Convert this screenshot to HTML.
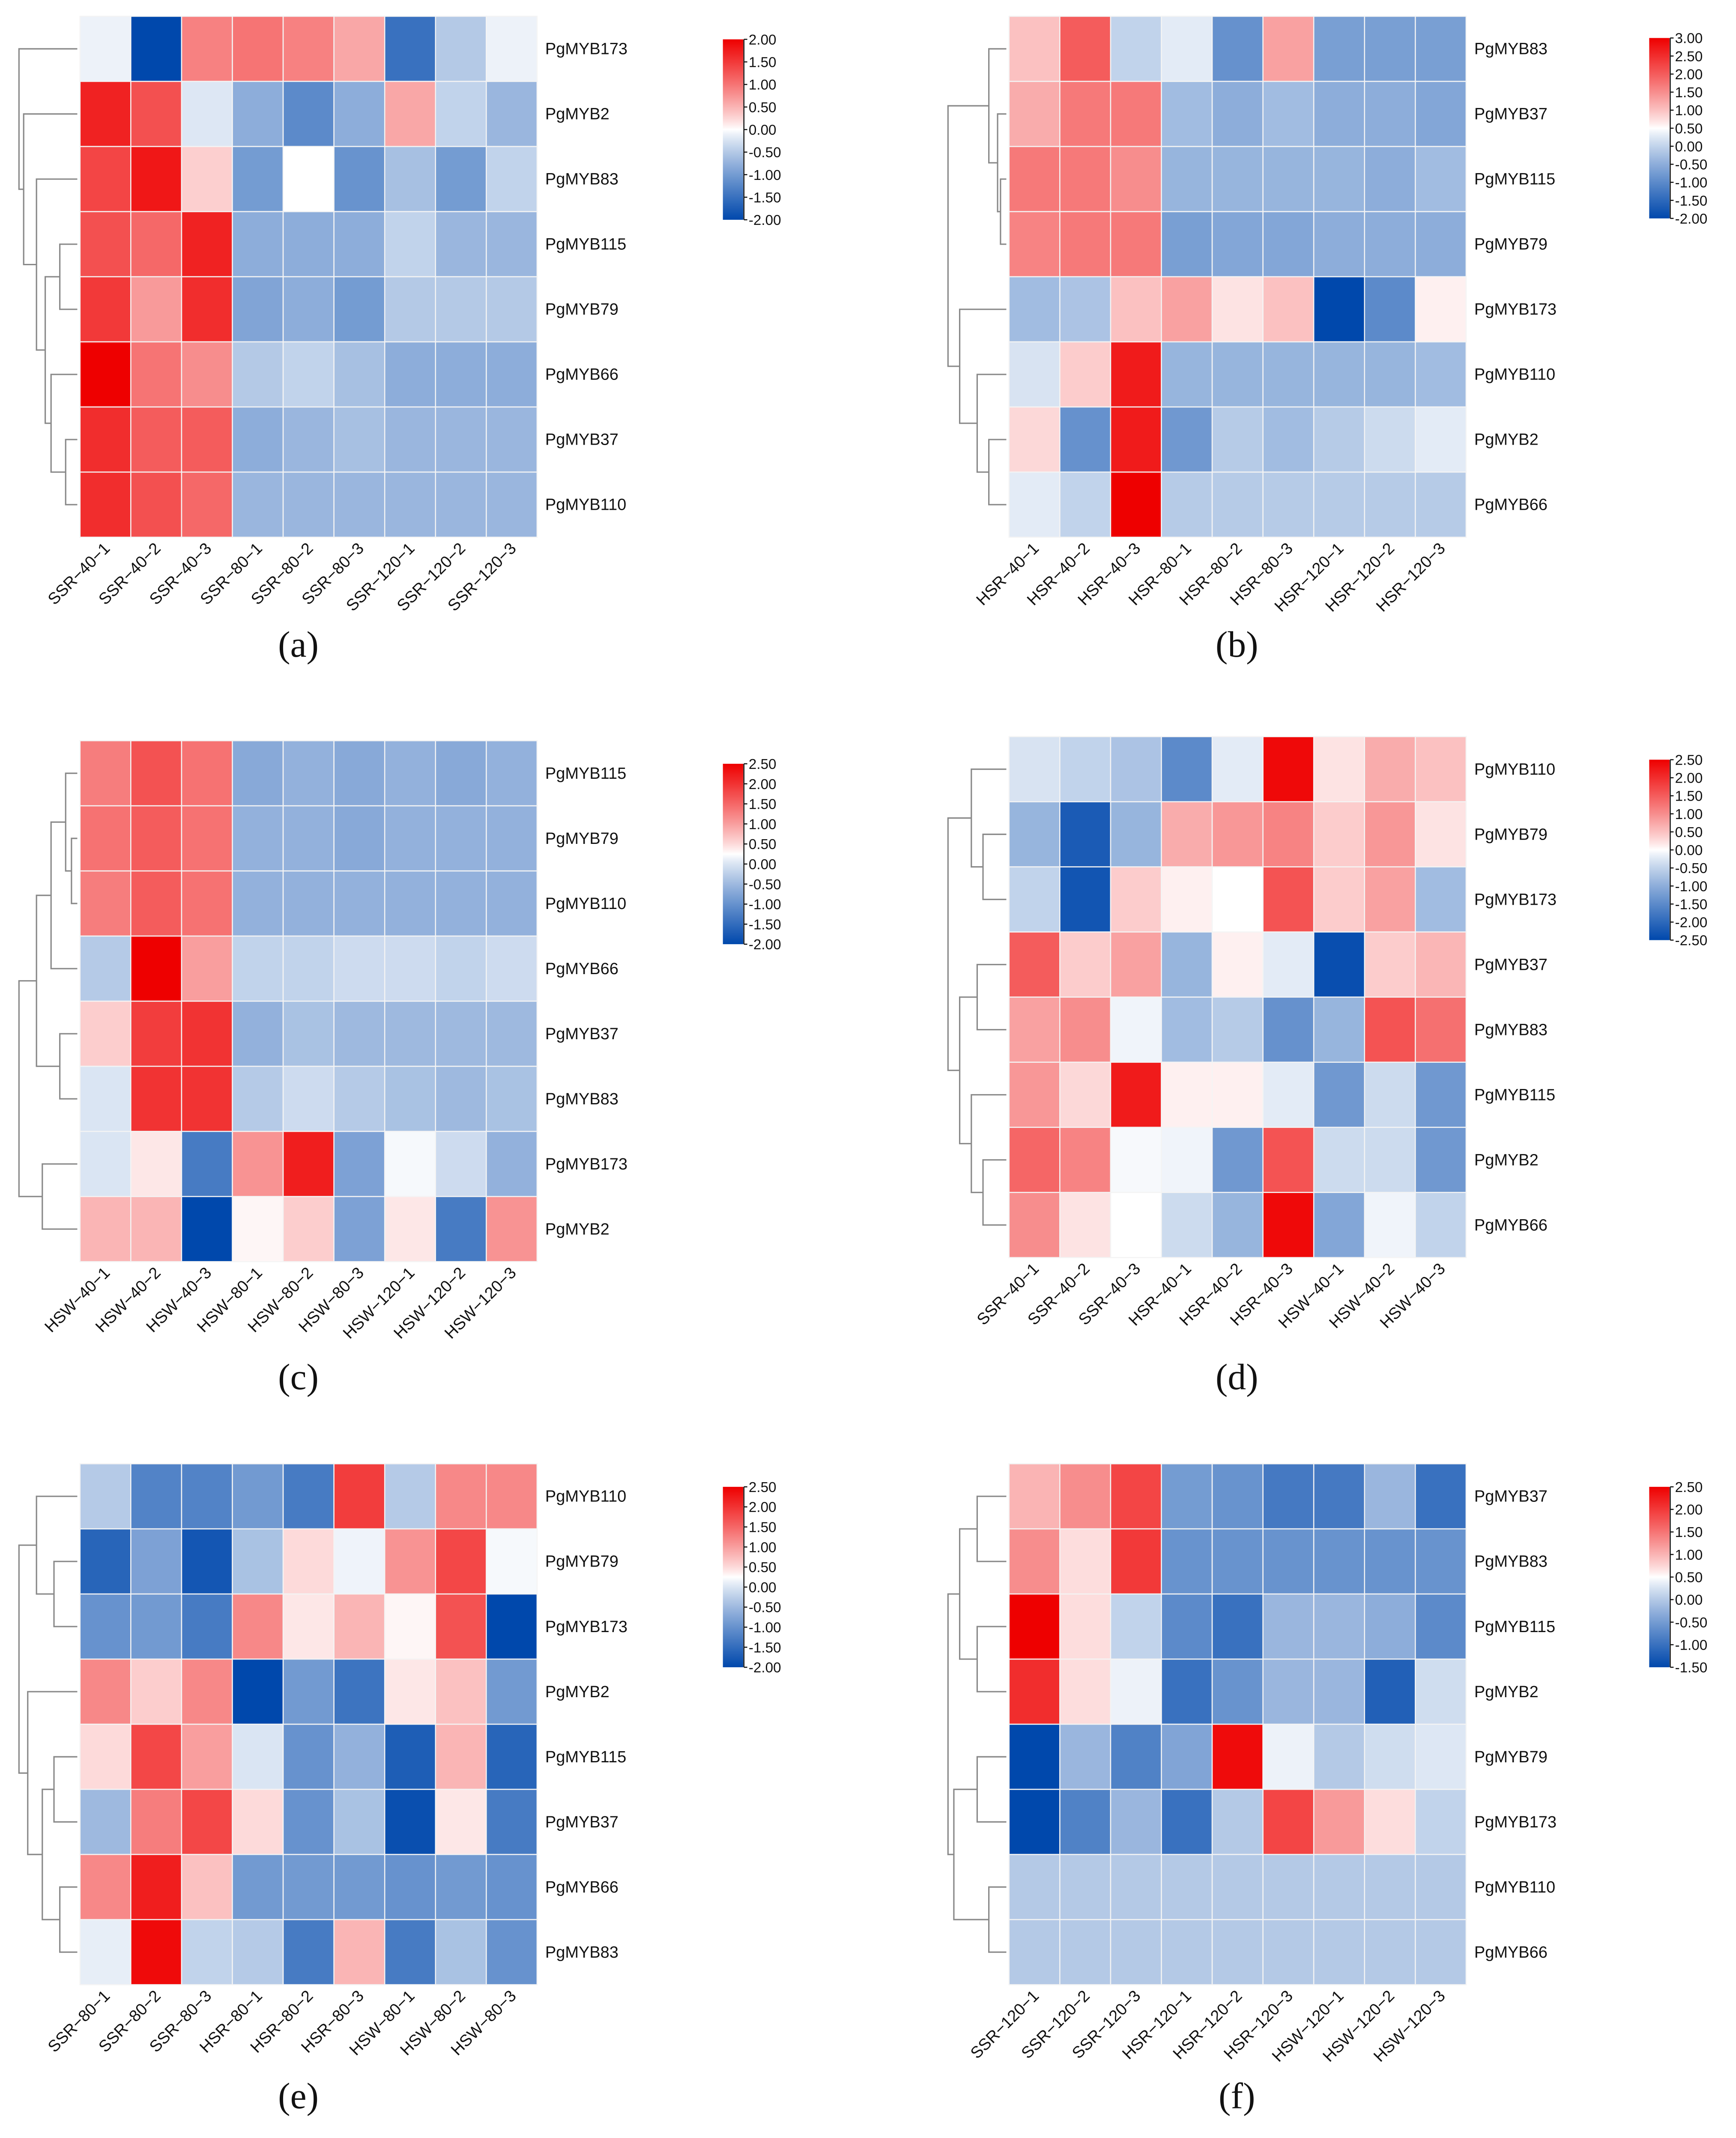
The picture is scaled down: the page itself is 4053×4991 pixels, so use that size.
<!DOCTYPE html>
<html><head><meta charset="utf-8">
<style>
html,body{margin:0;padding:0;background:#fff;}
svg{display:block;}
</style></head>
<body>
<svg id="fig" width="4053" height="4991" viewBox="0 0 1280 1576" preserveAspectRatio="none" xmlns="http://www.w3.org/2000/svg" font-family="Liberation Sans, Arial, sans-serif"></svg>
<script>
const colsA = ["SSR-40-1","SSR-40-2","SSR-40-3","SSR-80-1","SSR-80-2","SSR-80-3","SSR-120-1","SSR-120-2","SSR-120-3"];
const rowsA = ["PgMYB173","PgMYB2","PgMYB83","PgMYB115","PgMYB79","PgMYB66","PgMYB37","PgMYB110"];
const valsA = [
[-0.1,-2.0,0.9,1.0,0.9,0.6,-1.5,-0.5,-0.1],
[1.7,1.3,-0.2,-0.8,-1.2,-0.8,0.6,-0.4,-0.7],
[1.4,1.8,0.3,-1.0,0,-1.1,-0.6,-1.0,-0.4],
[1.3,1.1,1.7,-0.8,-0.8,-0.8,-0.4,-0.7,-0.7],
[1.5,0.7,1.6,-0.9,-0.8,-1.0,-0.5,-0.5,-0.5],
[2.0,1.0,0.8,-0.5,-0.4,-0.6,-0.8,-0.8,-0.8],
[1.6,1.2,1.2,-0.8,-0.7,-0.6,-0.7,-0.7,-0.7],
[1.6,1.3,1.1,-0.7,-0.7,-0.7,-0.7,-0.7,-0.7]];
const ticksA = ["2.00","1.50","1.00","0.50","0.00","-0.50","-1.00","-1.50","-2.00"];

const colsB = ["HSR-40-1","HSR-40-2","HSR-40-3","HSR-80-1","HSR-80-2","HSR-80-3","HSR-120-1","HSR-120-2","HSR-120-3"];
const rowsB = ["PgMYB83","PgMYB37","PgMYB115","PgMYB79","PgMYB173","PgMYB110","PgMYB2","PgMYB66"];
const valsB = [
[1.0,2.0,0,0.3,-0.9,1.3,-0.7,-0.7,-0.7],
[1.2,1.7,1.7,-0.3,-0.5,-0.3,-0.5,-0.5,-0.6],
[1.7,1.7,1.5,-0.4,-0.4,-0.4,-0.4,-0.5,-0.3],
[1.6,1.7,1.7,-0.7,-0.6,-0.6,-0.5,-0.5,-0.5],
[-0.3,-0.2,1.0,1.3,0.7,1.0,-2.0,-1.0,0.6],
[0.2,0.9,2.7,-0.4,-0.4,-0.4,-0.4,-0.4,-0.3],
[0.8,-0.9,2.7,-0.8,-0.1,-0.3,-0.1,0.1,0.3],
[0.3,0,3.0,-0.1,-0.1,-0.1,-0.1,-0.1,-0.1]];
const ticksB = ["3.00","2.50","2.00","1.50","1.00","0.50","0.00","-0.50","-1.00","-1.50","-2.00"];

const colsC = ["HSW-40-1","HSW-40-2","HSW-40-3","HSW-80-1","HSW-80-2","HSW-80-3","HSW-120-1","HSW-120-2","HSW-120-3"];
const rowsC = ["PgMYB115","PgMYB79","PgMYB110","PgMYB66","PgMYB37","PgMYB83","PgMYB173","PgMYB2"];
const valsC = [
[1.3,1.7,1.4,-0.7,-0.6,-0.7,-0.6,-0.7,-0.6],
[1.4,1.6,1.4,-0.6,-0.6,-0.7,-0.6,-0.6,-0.6],
[1.3,1.6,1.4,-0.6,-0.6,-0.6,-0.6,-0.6,-0.6],
[-0.3,2.5,1.0,-0.2,-0.2,-0.1,-0.1,-0.2,-0.1],
[0.6,1.9,2.0,-0.6,-0.4,-0.5,-0.5,-0.5,-0.5],
[0,2.0,2.0,-0.3,-0.1,-0.3,-0.4,-0.5,-0.4],
[0,0.4,-1.3,1.1,2.2,-0.8,0.2,-0.1,-0.6],
[0.8,0.8,-2.0,0.3,0.6,-0.8,0.4,-1.3,1.1]];
const ticksC = ["2.50","2.00","1.50","1.00","0.50","0.00","-0.50","-1.00","-1.50","-2.00"];

const colsD = ["SSR-40-1","SSR-40-2","SSR-40-3","HSR-40-1","HSR-40-2","HSR-40-3","HSW-40-1","HSW-40-2","HSW-40-3"];
const rowsD = ["PgMYB110","PgMYB79","PgMYB173","PgMYB37","PgMYB83","PgMYB115","PgMYB2","PgMYB66"];
const valsD = [
[-0.3,-0.5,-0.7,-1.5,-0.2,2.4,0.2,0.7,0.5],
[-0.9,-2.2,-0.9,0.7,0.9,1.1,0.4,0.9,0.2],
[-0.5,-2.3,0.4,0.1,0,1.6,0.4,0.8,-0.8],
[1.5,0.4,0.8,-0.9,0.1,-0.2,-2.4,0.4,0.6],
[0.8,1.0,-0.1,-0.8,-0.6,-1.4,-0.9,1.6,1.3],
[0.9,0.3,2.2,0.1,0.1,-0.2,-1.3,-0.4,-1.3],
[1.4,1.1,-0.05,-0.1,-1.3,1.6,-0.4,-0.4,-1.3],
[1.0,0.2,0,-0.4,-0.9,2.4,-1.1,-0.1,-0.5]];
const ticksD = ["2.50","2.00","1.50","1.00","0.50","0.00","-0.50","-1.00","-1.50","-2.00","-2.50"];

const colsE = ["SSR-80-1","SSR-80-2","SSR-80-3","HSR-80-1","HSR-80-2","HSR-80-3","HSW-80-1","HSW-80-2","HSW-80-3"];
const rowsE = ["PgMYB110","PgMYB79","PgMYB173","PgMYB2","PgMYB115","PgMYB37","PgMYB66","PgMYB83"];
const valsE = [
[-0.3,-1.2,-1.2,-0.9,-1.3,1.9,-0.3,1.2,1.2],
[-1.6,-0.8,-1.8,-0.4,0.5,0.15,1.1,1.8,0.2],
[-1.0,-0.9,-1.3,1.2,0.4,0.8,0.3,1.7,-2.0],
[1.2,0.6,1.2,-2.0,-0.9,-1.4,0.4,0.7,-0.9],
[0.5,1.8,1.0,0.0,-1.0,-0.6,-1.7,0.8,-1.6],
[-0.5,1.3,1.8,0.5,-1.0,-0.4,-1.9,0.4,-1.3],
[1.2,2.2,0.7,-0.9,-0.9,-0.9,-1.0,-0.9,-1.0],
[0.1,2.4,-0.2,-0.3,-1.3,0.8,-1.3,-0.4,-1.0]];
const ticksE = ["2.50","2.00","1.50","1.00","0.50","0.00","-0.50","-1.00","-1.50","-2.00"];

const colsF = ["SSR-120-1","SSR-120-2","SSR-120-3","HSR-120-1","HSR-120-2","HSR-120-3","HSW-120-1","HSW-120-2","HSW-120-3"];
const rowsF = ["PgMYB37","PgMYB83","PgMYB115","PgMYB2","PgMYB79","PgMYB173","PgMYB110","PgMYB66"];
const valsF = [
[1.0,1.3,1.9,-0.5,-0.6,-0.9,-0.9,-0.2,-1.0],
[1.3,0.7,2.0,-0.6,-0.6,-0.6,-0.6,-0.6,-0.6],
[2.5,0.7,0.1,-0.7,-1.0,-0.2,-0.2,-0.3,-0.7],
[2.1,0.7,0.4,-1.0,-0.6,-0.2,-0.2,-1.2,0.2],
[-1.5,-0.2,-0.8,-0.4,2.4,0.4,0,0.2,0.3],
[-1.5,-0.8,-0.2,-1.0,0,1.9,1.2,0.7,0.1],
[0,0,0,0,0,0,0,0,0],
[0,0,0,0,0,0,0,0,0]];
const ticksF = ["2.50","2.00","1.50","1.00","0.50","0.00","-0.50","-1.00","-1.50"];

const treeA = [1.0,0,[0.92,1,[0.7,2,[0.55,[0.3,3,4],[0.45,5,[0.2,6,7]]]]]];
const treeB = [1.0,[0.3,0,[0.15,1,[0.1,2,3]]],[0.8,4,[0.5,5,[0.3,6,7]]]];
const treeC = [1.0,[0.7,[0.45,[0.2,0,[0.1,1,2]],3],[0.3,4,5]],[0.6,6,7]];
const treeD = [1.0,[0.6,0,[0.4,1,2]],[0.8,[0.5,3,4],[0.6,5,[0.4,6,7]]]];
const treeE = [1.0,[0.7,0,[0.4,1,2]],[0.85,3,[0.6,[0.4,4,5],[0.3,6,7]]]];
const treeF = [1.0,[0.8,[0.5,0,1],[0.5,2,3]],[0.9,[0.5,4,5],[0.3,6,7]]];

const NS="http://www.w3.org/2000/svg";
const svg=document.getElementById('fig');
function el(tag,attrs,parent){const e=document.createElementNS(NS,tag);for(const k in attrs)e.setAttribute(k,attrs[k]);(parent||svg).appendChild(e);return e;}

const BLUE=[0,72,172], WHITE=[255,255,255], RED=[238,0,0];
function colorFor(v,min,max){
  const mid=(min+max)/2;let t,a,b;
  if(v<=mid){t=(mid-v)/(mid-min);a=WHITE;b=BLUE;}else{t=(v-mid)/(max-mid);a=WHITE;b=RED;}
  t=Math.max(0,Math.min(1,t));t=Math.pow(t,0.88);
  return 'rgb('+a.map((c,i)=>Math.round(c+(b[i]-c)*t)).join(',')+')';
}

function panel(id,x0,y0,cols,rows,vals,ticks,tree,cbY,cap,capX,capY){
  const g=el('g',{});
  
  
  const W=337,H=384,cw=W/cols.length,rh=H/rows.length;
  const max=parseFloat(ticks[0]),min=parseFloat(ticks[ticks.length-1]);
  const yScale=i=>y0+i*rh, xScale=j=>x0+j*cw;
  vals.forEach((row,i)=>row.forEach((v,j)=>{
    const r=el('rect',{x:xScale(j),y:yScale(i),width:cw,height:rh,fill:colorFor(v,min,max),stroke:'#f4f4f4','stroke-width':0.8},g);
    
    
  }));
  rows.forEach((n,i)=>{
    const t=el('text',{x:x0+W+6,y:yScale(i)+rh/2+4,'font-size':12,fill:'#111'},g);
    t.textContent=n;
    
    
  });
  cols.forEach((n,j)=>{
    const cx=xScale(j)+cw/2+4, cy=y0+H+9;
    const t=el('text',{x:cx,y:cy,'font-size':12,fill:'#111','text-anchor':'end',transform:'rotate(-45 '+cx+' '+cy+')'},g);
    t.textContent=n.replace(/-/g,'\u2212');
    
    
  });
  const dg=el('g',{stroke:'#888','stroke-width':1,fill:'none'},g);
  
  
  const right=x0-2,dw=43;
  function draw(n){
    if(typeof n==='number') return {y:yScale(n)+rh/2,x:right};
    const a=draw(n[1]),b=draw(n[2]);const x=right-n[0]*dw;
    el('path',{d:'M'+a.x+','+a.y+'H'+x+'V'+b.y+'H'+b.x},dg);
    return {y:(a.y+b.y)/2,x:x};
  }
  draw(tree);
  const cbx=(x0<400?533:1216),cbh=133;
  const defs=el('defs',{},g);
  const lg=el('linearGradient',{id:'grad'+id,x1:0,y1:0,x2:0,y2:1},defs);
  for(let k=0;k<=40;k++){const v=max-(max-min)*k/40;el('stop',{offset:(k*2.5)+'%','stop-color':colorFor(v,min,max)},lg);}
  const cb=el('rect',{x:cbx,y:cbY,width:15,height:cbh,fill:'url(#grad'+id+')'},g);
  
  
  el('line',{x1:cbx+15.5,x2:cbx+15.5,y1:cbY,y2:cbY+cbh,stroke:'#111','stroke-width':0.8},g);
  ticks.forEach((tk,k)=>{
    const ty=cbY+cbh*(max-parseFloat(tk))/(max-min);
    el('line',{x1:cbx+15.5,x2:cbx+18,y1:ty,y2:ty,stroke:'#111','stroke-width':0.8},g);
    const t=el('text',{x:cbx+19,y:ty+3.8,'font-size':10.5,fill:'#111'},g);
    t.textContent=tk;
    
    
  });
  const c=el('text',{x:capX,y:capY,'font-size':27,'font-family':'Liberation Serif, serif','text-anchor':'middle',fill:'#111'},g);
  c.textContent=cap;
  
  
}
panel('a',59,12,colsA,rowsA,valsA,ticksA,treeA,29,'(a)',220,484);
panel('b',744,12,colsB,rowsB,valsB,ticksB,treeB,28,'(b)',912,484);
panel('c',59,546,colsC,rowsC,valsC,ticksC,treeC,563,'(c)',220,1024);
panel('d',744,543,colsD,rowsD,valsD,ticksD,treeD,560,'(d)',912,1024);
panel('e',59,1079,colsE,rowsE,valsE,ticksE,treeE,1096,'(e)',220,1554);
panel('f',744,1079,colsF,rowsF,valsF,ticksF,treeF,1096,'(f)',912,1554);
</script>
</body></html>
